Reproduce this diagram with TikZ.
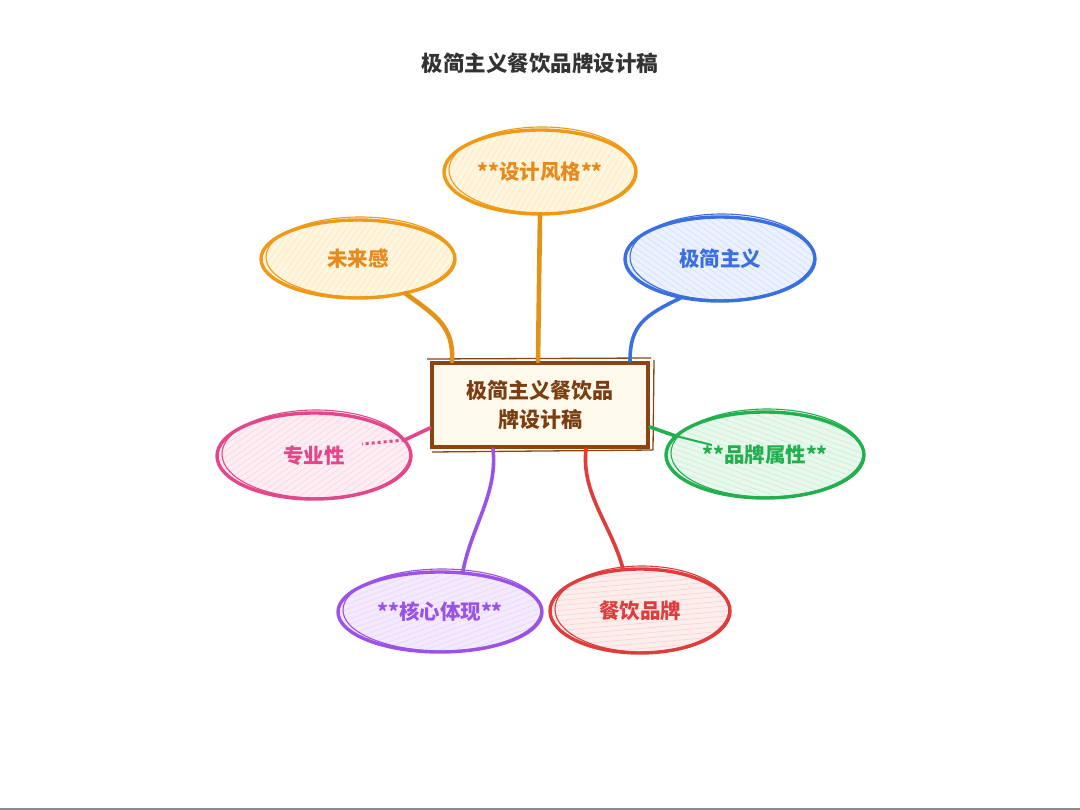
\documentclass[tikz,border=0pt]{standalone}
\usepackage{fontspec}
\setmainfont{Noto Sans CJK SC}
\usetikzlibrary{shapes.geometric,patterns.meta,calc}
\definecolor{cOrange}{HTML}{EE9A18}
\definecolor{cOrangeT}{HTML}{E58A1C}
\definecolor{cBlue}{HTML}{3A6FE0}
\definecolor{cPink}{HTML}{E4468A}
\definecolor{cGreen}{HTML}{22B04E}
\definecolor{cPurple}{HTML}{9B52E6}
\definecolor{cRed}{HTML}{E03C3C}
\definecolor{cBrown}{HTML}{8B4513}
\definecolor{cBrownT}{HTML}{7A3E12}
\definecolor{cTitle}{HTML}{333333}
\definecolor{fOrange}{HTML}{FFF6DE}
\definecolor{fBlue}{HTML}{ECF2FD}
\definecolor{fPink}{HTML}{FDEEF4}
\definecolor{fGreen}{HTML}{E9F8ED}
\definecolor{fPurple}{HTML}{F3EAFD}
\definecolor{fRed}{HTML}{FDEEEE}
\definecolor{fCream}{HTML}{FFF9EC}
\tikzset{
  leafbase/.style={ellipse, line width=3.4pt, inner sep=0pt,
    font=\fontsize{20.5}{24}\selectfont\bfseries},
  centerbox/.style={rectangle, draw=cBrown, line width=4pt, fill=fCream,
    minimum width=216pt, minimum height=84pt, align=center, text=cBrownT,
    font=\fontsize{21}{29}\selectfont\bfseries},
  titletext/.style={text=cTitle, font=\fontsize{21.5}{24}\selectfont\bfseries},
  conn/.style={line width=3.6pt, line cap=round},
  connthick/.style={line width=4.6pt, line cap=round},
}
\newcommand\leafnode[9]{%
  \node[leafbase, draw=#6, text=#6, minimum width=#4*2pt, minimum height=#5*2pt,
        preaction={fill=#7},
        pattern={Lines[angle=#8,distance=5pt,line width=0.7pt]}, pattern color=#6!22]
        (#1) at (#2,#3) {#9};
  \draw[#6, line width=1.1pt] ($(#1.center)+(2,-2)$) ellipse [x radius=#4pt-3pt, y radius=#5pt+1pt];
}
\begin{document}
\begin{tikzpicture}[x=1pt,y=-1pt]
\useasboundingbox (0,0) rectangle (1080,810);
\fill[white] (0,0) rectangle (1080,810);
\fill[gray!90] (0,807.5) rectangle (1080,810);

\node[titletext] (title) at (540,63) {极简主义餐饮品牌设计稿};

% leaves
\leafnode{sj}{540}{172}{96}{42}{cOrange}{fOrange}{60}{\textcolor{cOrangeT}{**设计风格**}}
\leafnode{wl}{358}{259}{97}{39}{cOrange}{fOrange}{55}{\textcolor{cOrangeT}{未来感}}
\leafnode{jj}{720}{259}{95}{42}{cBlue}{fBlue}{-35}{极简主义}
\leafnode{zy}{314}{456}{97}{43}{cPink}{fPink}{35}{专业性}
\leafnode{pp}{765}{455}{99}{43}{cGreen}{fGreen}{-20}{**品牌属性**}
\leafnode{hx}{440}{612}{102}{40}{cPurple}{fPurple}{20}{**核心体现**}
\leafnode{cy}{640}{611}{90}{42}{cRed}{fRed}{5}{餐饮品牌}

% center
\node[centerbox] (c) at (540,405) {极简主义餐饮品\\牌设计稿};
\draw[cBrown, line width=1.3pt] ($(c.south west)+(2,3)$) -- ($(c.south east)+(3,1)$) -- ($(c.north east)+(4,-1)$);
\draw[cBrown, line width=1.3pt] ($(c.north west)+(-3,-2)$) -- ($(c.north east)+(1,-3)$);

% connectors
\draw[cOrange!95!black, connthick] ($(c.north)+(-2,0)$) -- (sj.south);
\draw[cOrange!95!black, connthick] (wl.-36) .. controls +(30,22) and +(2,-35) .. ($(c.north west)+(22,0)$);
\draw[cBlue, conn] (jj.-135) .. controls +(-38,18) and +(0,-35) .. ($(c.north east)+(-20,0)$);
\draw[cPink, conn] ($(c.west)+(0,23)$) -- (zy.10);
\draw[cPink, line width=3pt, dashed] (zy.10) -- ($(zy.center)+(48,-12)$);
\draw[cGreen, conn] ($(c.east)+(0,22)$) -- (pp.168);
\draw[cGreen, line width=2pt] (pp.168) -- ($(pp.center)+(-53,-10)$);
\draw[cPurple, conn] ($(c.south)+(-47,0)$) .. controls +(5,45) and +(8,-45) .. (hx.60);
\draw[cRed, conn] ($(c.south)+(46,0)$) .. controls +(-5,45) and +(-12,-45) .. (cy.112);
\end{tikzpicture}
\end{document}
